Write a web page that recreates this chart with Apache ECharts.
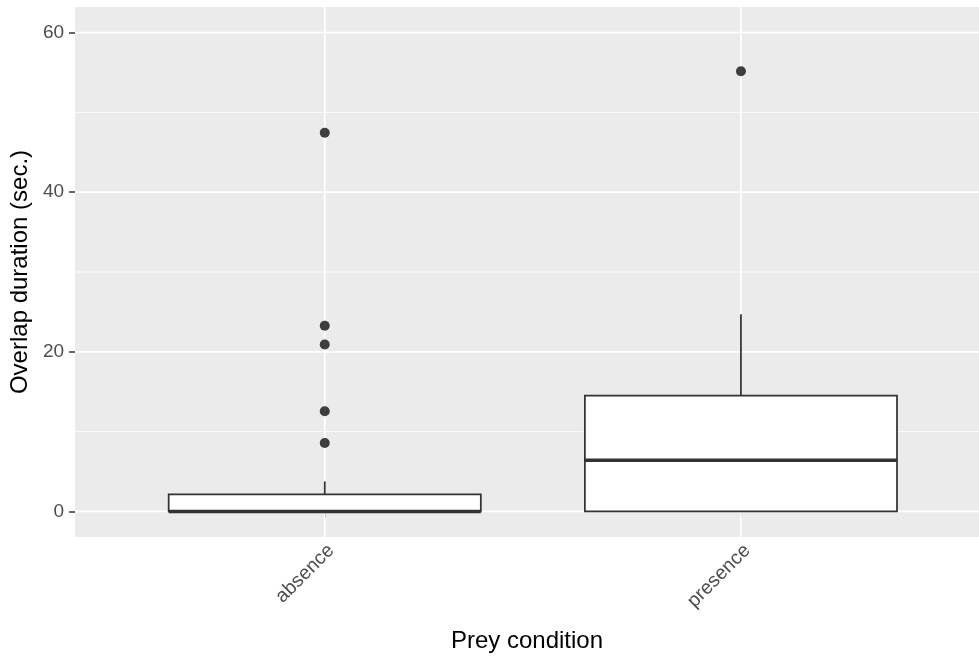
<!DOCTYPE html>
<html>
<head>
<meta charset="utf-8">
<script src="https://cdn.jsdelivr.net/npm/echarts@6/dist/echarts.min.js"></script>
<style>
  html, body { margin: 0; padding: 0; background: #ffffff; }
  #chart { width: 979px; height: 660px; }
</style>
</head>
<body>
<div id="chart"></div>
<script>
// Prey condition groups
const categories = ['absence', 'presence'];

// Box statistics per group: [lower whisker, Q1, median, Q3, upper whisker]
const absenceStats  = [0, 0, 0, 2.13, 3.76];
const presenceStats = [0, 0, 6.4, 14.5, 24.7];

// Points beyond the whiskers
const absenceOutliers  = [47.45, 23.26, 20.92, 12.55, 8.57];
const presenceOutliers = [55.16];

// Axis ticks
const yMajorTicks = [0, 20, 40, 60];
const yMinorTicks = [10, 30, 50];

const FONT = '"Liberation Sans", Arial, "DejaVu Sans", sans-serif';

const boxData = [
  [1].concat(absenceStats),
  [2].concat(presenceStats)
];
const outlierData = absenceOutliers.map(v => [1, v])
  .concat(presenceOutliers.map(v => [2, v]));

const gridLineData = yMajorTicks.map(v => [v, 1]).concat(yMinorTicks.map(v => [v, 0]));
const catPositions = categories.map((c, i) => [i + 1]);

const chart = echarts.init(document.getElementById('chart'), null, { renderer: 'canvas' });

chart.setOption({
  animation: false,
  backgroundColor: '#ffffff',
  grid: {
    left: 75, right: 0, top: 7, bottom: 123,
    show: true, backgroundColor: '#EBEBEB', borderWidth: 0,
    containLabel: false
  },
  xAxis: {
    type: 'value',
    // the panel runs past the right edge of the canvas
    min: 0.4, max: 2.572,
    axisLine: { show: false },
    splitLine: { show: false },
    axisTick: {
      show: true, customValues: [1, 2], length: 6,
      lineStyle: { color: '#333333', width: 1.5 }
    },
    axisLabel: {
      show: true, customValues: [1, 2],
      formatter: v => categories[Math.round(v) - 1],
      rotate: 45, margin: 17,
      padding: [20, -9, 0, 0],
      color: '#4D4D4D', fontSize: 19.5, fontFamily: FONT
    },
    name: 'Prey condition',
    nameLocation: 'middle', nameGap: 92,
    nameTextStyle: { color: '#000000', fontSize: 24, fontFamily: FONT }
  },
  yAxis: {
    type: 'value',
    min: -3.2, max: 63.2,
    axisLine: { show: false },
    splitLine: { show: false },
    axisTick: {
      show: true, customValues: yMajorTicks, length: 6,
      lineStyle: { color: '#333333', width: 1.5 }
    },
    axisLabel: {
      show: true, customValues: yMajorTicks, margin: 11,
      color: '#4D4D4D', fontSize: 19, fontFamily: FONT
    },
    name: 'Overlap duration (sec.)',
    nameLocation: 'middle', nameGap: 42, nameRotate: 90,
    nameTextStyle: { color: '#000000', fontSize: 24, fontFamily: FONT }
  },
  series: [
    {
      // horizontal panel grid lines
      type: 'custom', name: 'hgrid', z: 1, silent: true,
      data: gridLineData,
      renderItem: function (params, api) {
        const cs = params.coordSys;
        const y = api.coord([1, api.value(0)])[1];
        const major = api.value(1) === 1;
        return {
          type: 'line',
          shape: { x1: cs.x, y1: y, x2: cs.x + cs.width, y2: y },
          style: { stroke: '#ffffff', lineWidth: major ? 1.8 : 0.9 }
        };
      }
    },
    {
      // vertical grid lines at each group
      type: 'custom', name: 'vgrid', z: 1, silent: true,
      data: catPositions,
      renderItem: function (params, api) {
        const cs = params.coordSys;
        const x = api.coord([api.value(0), 0])[0];
        return {
          type: 'line',
          shape: { x1: x, y1: cs.y, x2: x, y2: cs.y + cs.height },
          style: { stroke: '#ffffff', lineWidth: 1.8 }
        };
      }
    },
    {
      type: 'custom', name: 'boxes', z: 2, silent: true,
      data: boxData,
      renderItem: function (params, api) {
        const xv = api.value(0);
        const lo = api.value(1), q1 = api.value(2), med = api.value(3),
              q3 = api.value(4), hi = api.value(5);
        const w = api.size([0.75, 0])[0];
        const pLo = api.coord([xv, lo]);
        const pQ1 = api.coord([xv, q1]);
        const pMed = api.coord([xv, med]);
        const pQ3 = api.coord([xv, q3]);
        const pHi = api.coord([xv, hi]);
        const cx = pQ1[0];
        const stroke = '#333333';
        return {
          type: 'group',
          children: [
            { type: 'line', shape: { x1: cx, y1: pHi[1], x2: cx, y2: pQ3[1] },
              style: { stroke: stroke, lineWidth: 1.75 } },
            { type: 'line', shape: { x1: cx, y1: pQ1[1], x2: cx, y2: pLo[1] },
              style: { stroke: stroke, lineWidth: 1.75 } },
            { type: 'rect',
              shape: { x: cx - w / 2, y: pQ3[1], width: w, height: pQ1[1] - pQ3[1] },
              style: { fill: '#ffffff', stroke: stroke, lineWidth: 1.75 } },
            { type: 'line', shape: { x1: cx - w / 2, y1: pMed[1], x2: cx + w / 2, y2: pMed[1] },
              style: { stroke: stroke, lineWidth: 3.5 } }
          ]
        };
      }
    },
    {
      type: 'scatter', name: 'outliers', z: 3, silent: true,
      data: outlierData,
      symbol: 'circle', symbolSize: 10,
      itemStyle: { color: '#111111' }
    }
  ]
});
</script>
</body>
</html>
